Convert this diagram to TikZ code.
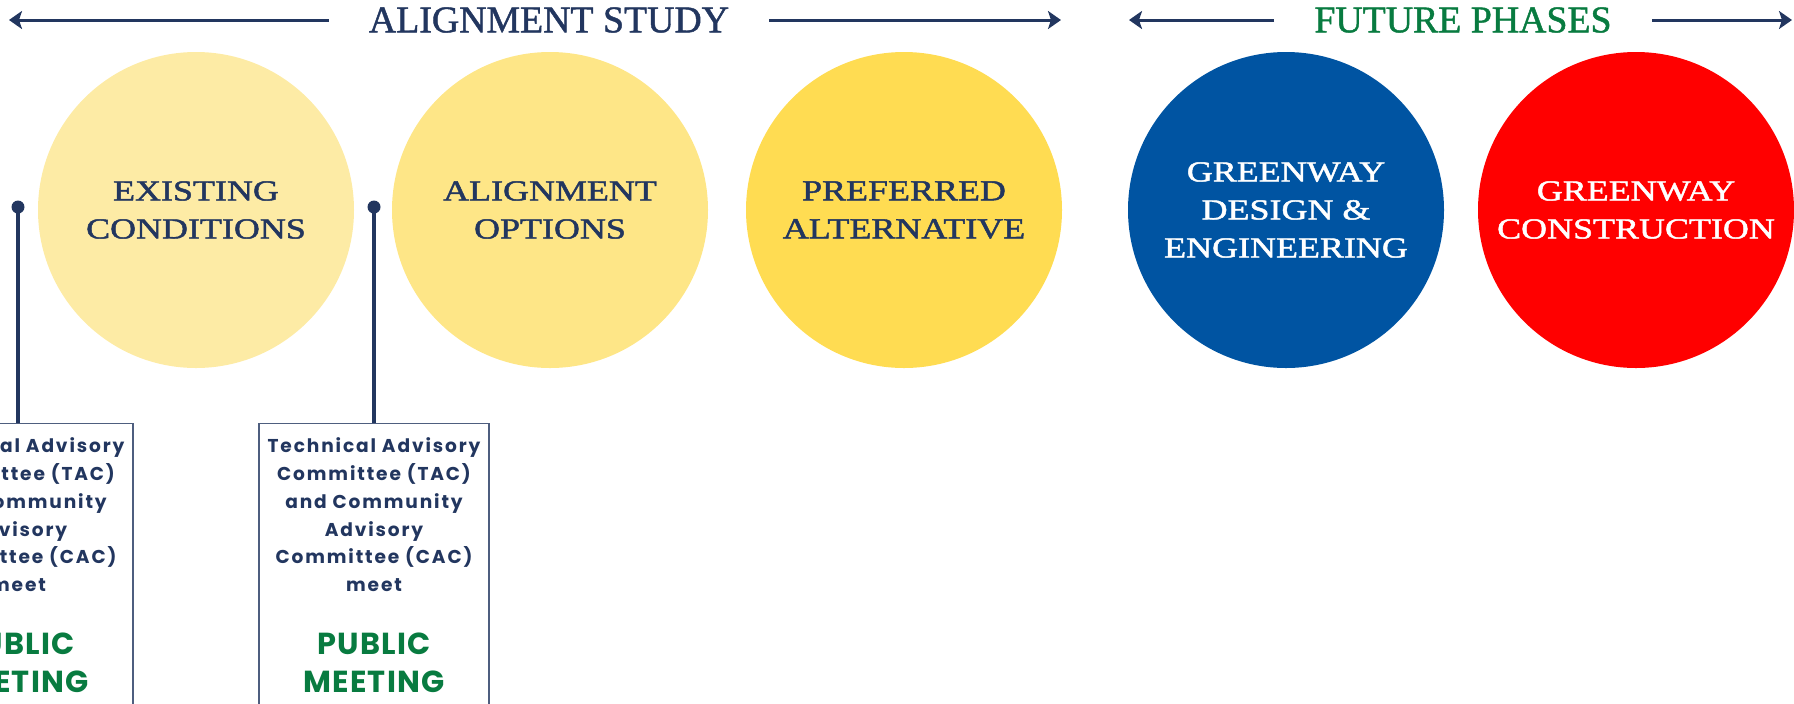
\documentclass[tikz,border=0pt]{standalone}
\usepackage{fontspec}
\usetikzlibrary{arrows.meta,positioning}
\newfontfamily\headfont[FakeBold=1.2]{Liberation Serif}
\newfontfamily\phasefont[FakeStretch=1.24,FakeBold=1.6]{Liberation Serif}
\newfontfamily\boxfont[LetterSpace=10]{Poppins}
\newfontfamily\pubfont[LetterSpace=4]{Poppins}
\definecolor{navy}{HTML}{22365F}
\definecolor{meetgreen}{HTML}{087B40}
\definecolor{paleA}{HTML}{FDEBA5}
\definecolor{paleB}{HTML}{FEE687}
\definecolor{paleC}{HTML}{FFDC52}
\definecolor{designblue}{HTML}{0054A2}
\definecolor{buildred}{HTML}{FF0000}
\begin{document}
\begin{tikzpicture}[x=0.5pt,y=-0.5pt,
    phase/.style={circle,minimum size=158pt,inner sep=0pt,align=center,text=navy,
      font=\phasefont\fontsize{14.5}{19}\selectfont},
    heading/.style={inner xsep=20pt,inner ysep=0pt,font=\headfont\fontsize{18.9}{22}\selectfont},
    span/.style={navy,line width=1.5pt,-{Stealth[length=6.5pt,width=9pt,inset=1.5pt]}},
    pindot/.style={circle,fill=navy,minimum size=6.5pt,inner sep=0pt},
    meetbox/.style={draw=navy!80,line width=0.7pt,anchor=north,minimum width=115pt,minimum height=160pt},
    tac/.style={align=center,text=navy,inner sep=0pt,
      font=\boxfont\bfseries\fontsize{9.3}{13.85}\selectfont},
    pub/.style={align=center,text=meetgreen,inner sep=0pt,
      font=\pubfont\bfseries\fontsize{15.2}{18.75}\selectfont}]
  \clip (0,0) rectangle (1794,703);

  % phases
  \node[phase,fill=paleA] (exist) at (196,210) {EXISTING\\CONDITIONS};
  \node[phase,fill=paleB] (options) at (550,210) {ALIGNMENT\\OPTIONS};
  \node[phase,fill=paleC] (preferred) at (904,210) {PREFERRED\\ALTERNATIVE};
  \node[phase,fill=designblue,text=white] (design) at (1286,210) {GREENWAY\\DESIGN \&\\ENGINEERING};
  \node[phase,fill=buildred,text=white] (build) at (1636,210) {GREENWAY\\CONSTRUCTION};

  % headings
  \node[heading,text=navy] (study) at (549,20) {ALIGNMENT STUDY};
  \node[heading,text=meetgreen] (future) at (1463,20) {FUTURE PHASES};
  \coordinate (studyL) at (9,20);
  \coordinate (studyR) at (1061,20);
  \coordinate (futureL) at (1129,20);
  \coordinate (futureR) at (1792,20);
  \draw[span] (study.west) -- (studyL);
  \draw[span] (study.east) -- (studyR);
  \draw[span] (future.west) -- (futureL);
  \draw[span] (future.east) -- (futureR);

  % meetings
  \node[meetbox] (box1) at (18,423) {};
  \node[meetbox] (box2) at (374,423) {};
  \node[pindot] (dot1) at (18,207) {};
  \node[pindot] (dot2) at (374,207) {};
  \draw[navy,line width=1.6pt] (dot1.center) -- (box1.north);
  \draw[navy,line width=1.6pt] (dot2.center) -- (box2.north);
  \node[tac,below=7.3pt of box1.north] (tac1) {Technical Advisory\\Committee (TAC)\\and Community\\Advisory\\Committee (CAC)\\meet};
  \node[pub,below=20.5pt of tac1] (pub1) {PUBLIC\\MEETING};
  \node[tac,below=7.3pt of box2.north] (tac2) {Technical Advisory\\Committee (TAC)\\and Community\\Advisory\\Committee (CAC)\\meet};
  \node[pub,below=20.5pt of tac2] (pub2) {PUBLIC\\MEETING};
\end{tikzpicture}
\end{document}
